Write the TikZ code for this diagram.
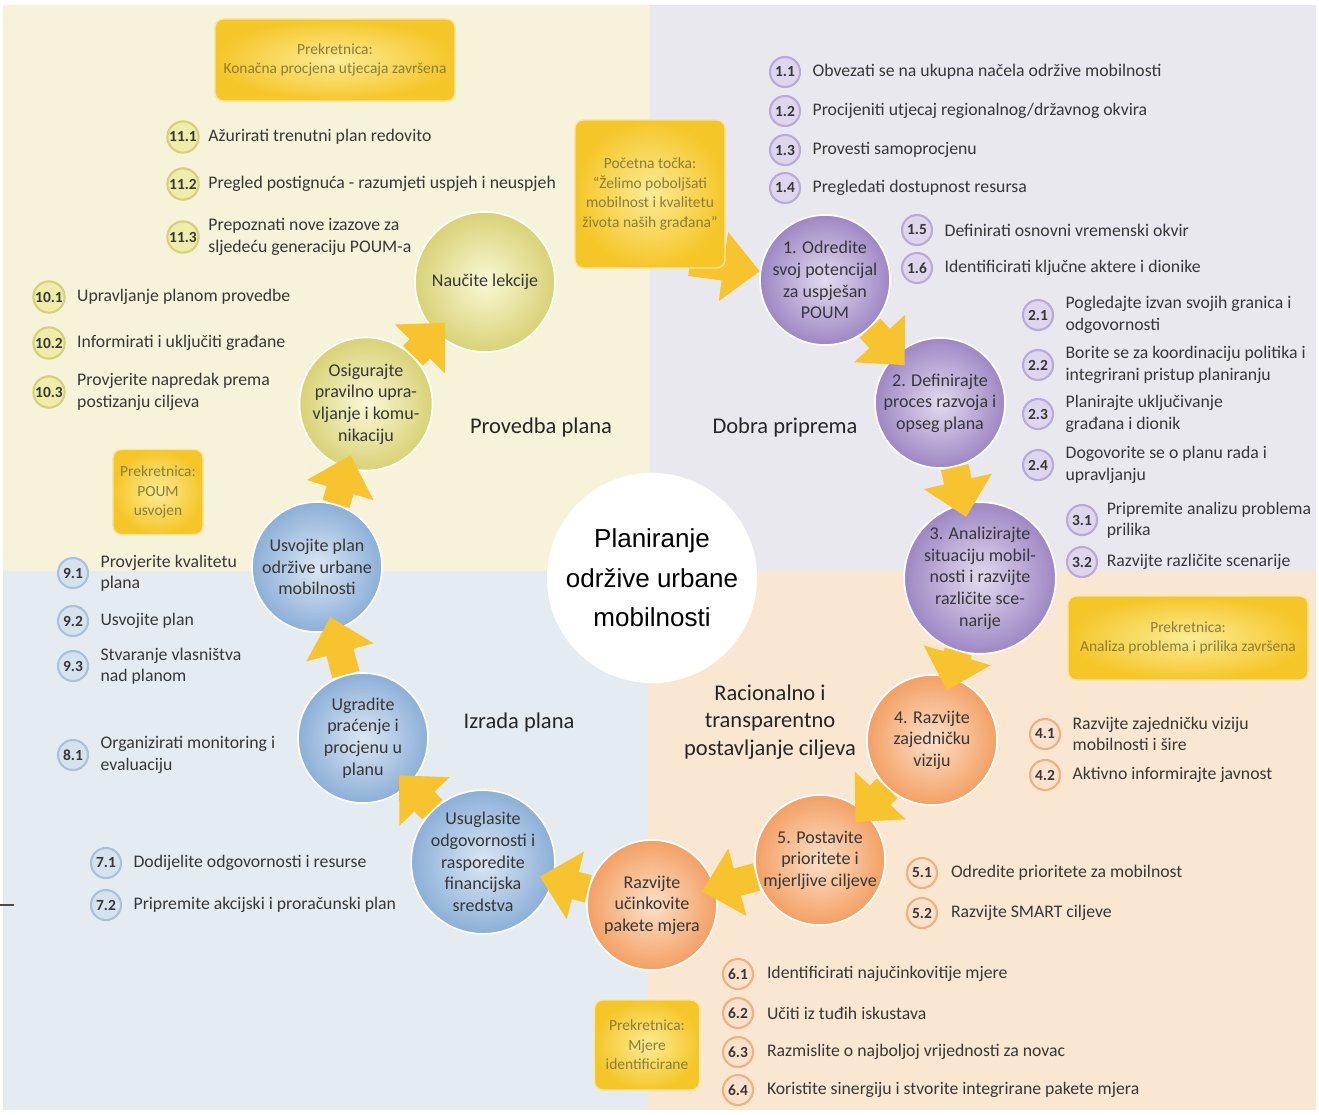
\documentclass[tikz,border=0pt]{standalone}
\usepackage{fontspec}
\setmainfont{Carlito}
\newfontfamily\centerfont{Liberation Sans}
\usepackage{tikz}
\usetikzlibrary{positioning}
\usetikzlibrary{arrows.meta}
\usepackage{xcolor}
\definecolor{bgyellow}{RGB}{247, 242, 218}
\definecolor{bglilac}{RGB}{233, 232, 239}
\definecolor{bgblue}{RGB}{228, 236, 241}
\definecolor{bgpeach}{RGB}{250, 231, 210}
\definecolor{txtgray}{RGB}{55, 55, 55}
\definecolor{msgold}{RGB}{245, 198, 40}
\definecolor{mslight}{RGB}{252, 236, 150}
\definecolor{mstext}{RGB}{140, 124, 60}
\definecolor{arrgold}{RGB}{247, 196, 47}
\definecolor{purin}{RGB}{226, 219, 238}
\definecolor{purout}{RGB}{158, 135, 196}
\definecolor{orain}{RGB}{253, 224, 200}
\definecolor{oraout}{RGB}{243, 160, 100}
\definecolor{bluin}{RGB}{220, 231, 243}
\definecolor{bluout}{RGB}{140, 175, 216}
\definecolor{yelin}{RGB}{250, 248, 214}
\definecolor{yelout}{RGB}{216, 210, 118}
\definecolor{purbf}{RGB}{221, 214, 236}
\definecolor{purbd}{RGB}{185, 170, 214}
\definecolor{orabf}{RGB}{252, 226, 204}
\definecolor{orabd}{RGB}{240, 176, 130}
\definecolor{blubf}{RGB}{214, 226, 238}
\definecolor{blubd}{RGB}{170, 193, 219}
\definecolor{yelbf}{RGB}{240, 236, 170}
\definecolor{yelbd}{RGB}{214, 208, 120}
\pgfdeclarelayer{back}
\pgfdeclarelayer{mid}
\pgfsetlayers{back,mid,main}

\begin{document}
\begin{tikzpicture}[x=0.025cm, y=-0.025cm,
  stage/.style={circle, minimum size=3.25cm, inner sep=0pt, align=center,
    font=\fontsize{12.8}{15.4}\selectfont, text=txtgray,
    draw=white, line width=1.2pt},
  purstage/.style={stage, inner color=purin, outer color=purout},
  orastage/.style={stage, inner color=orain, outer color=oraout},
  blustage/.style={stage, inner color=bluin, outer color=bluout},
  yelstage/.style={stage, inner color=yelin, outer color=yelout},
  badge/.style={circle, minimum size=0.75cm, inner sep=0.5pt, line width=1.5pt,
    font=\fontsize{11}{12}\selectfont\bfseries, text=txtgray},
  purbadge/.style={badge, fill=purbf, draw=purbd},
  orabadge/.style={badge, fill=orabf, draw=orabd},
  blubadge/.style={badge, fill=blubf, draw=blubd},
  yelbadge/.style={badge, fill=yelbf, draw=yelbd},
  item/.style={inner sep=0pt, align=left, text=txtgray,
    font=\fontsize{12.6}{15.2}\selectfont},
  mstone/.style={rectangle, rounded corners=6pt, inner color=mslight,
    outer color=msgold, draw=white!55!msgold, line width=1pt, align=center,
    text=mstext, font=\fontsize{11}{13.8}\selectfont},
  phase/.style={align=center, text=black!85, font=\fontsize{16}{19.5}\selectfont},
  bigarr/.style={line width=20pt, draw=arrgold,
    -{Triangle[length=26pt, width=48pt]}, shorten >=-10pt}
]
  \useasboundingbox (0,0) rectangle (1319,1114);
  \begin{pgfonlayer}{back}
    \fill[white] (0,0) rectangle (1319,1114);
    \fill[bgyellow] (3,5) rectangle (650,571);
    \fill[bglilac]  (650,5) rectangle (1316,571);
    \fill[bgblue]   (3,571) rectangle (648,1110);
    \fill[bgpeach]  (648,571) rectangle (1316,1110);
    \draw[black!70, line width=0.8pt] (0,905) -- (14,905);
  \end{pgfonlayer}

  \node[circle, fill=white, minimum size=5.2cm, align=center, text=black,
    font=\centerfont\fontsize{18.5}{28}\selectfont] (core) at (652,578)
    {Planiranje\\održive urbane\\mobilnosti};

  \node[purstage] (c1) at (825,280) {1. Odredite\\svoj potencijal\\za uspješan\\POUM};
  \node[purstage] (c2) at (940,403) {2. Definirajte\\proces razvoja i\\opseg plana};
  \node[purstage, minimum size=3.4cm] (c3) at (980,578)
    {3. Analizirajte\\situaciju mobil-\\nosti i razvijte\\različite sce-\\narije};
  \node[orastage] (c4) at (932,740) {4. Razvijte\\zajedničku\\viziju};
  \node[orastage] (c5) at (820,860) {5. Postavite\\prioritete i\\mjerljive ciljeve};
  \node[orastage] (c6) at (652,905) {Razvijte\\učinkovite\\pakete mjera};
  \node[blustage] (c7) at (483,862)
    {Usuglasite\\odgovornosti i\\rasporedite\\financijska\\sredstva};
  \node[blustage] (c8) at (363,738) {Ugradite\\praćenje i\\procjenu u\\planu};
  \node[blustage] (c9) at (317,567) {Usvojite plan\\održive urbane\\mobilnosti};
  \node[yelstage] (c10) at (366,404)
    {Osigurajte\\pravilno upra-\\vljanje i komu-\\nikaciju};
  \node[yelstage, minimum size=3.5cm] (c11) at (485,282) {Naučite lekcije};

  \draw[bigarr] (c1) -- (c2);
  \draw[bigarr] (c2) -- (c3);
  \draw[bigarr] (c3) -- (c4);
  \draw[bigarr] (c4) -- (c5);
  \draw[bigarr] (c5) -- (c6);
  \draw[bigarr] (c6) -- (c7);
  \draw[bigarr] (c7) -- (c8);
  \draw[bigarr] (c8) -- (c9);
  \draw[bigarr] (c9) -- (c10);
  \draw[bigarr] (c10) -- (c11);

  \node[mstone, minimum width=3.75cm, minimum height=3.7cm] (start) at (650,194)
    {Početna točka:\\“Želimo poboljšati\\mobilnost i kvalitetu\\života naših građana”};
  \coordinate (startout) at (690,262);
  \begin{pgfonlayer}{mid}
    \draw[bigarr, shorten >=0pt] (startout) -- (c1);
  \end{pgfonlayer}
  \node[mstone, minimum width=6cm, minimum height=2.05cm] (ms11) at (335,60)
    {Prekretnica:\\Konačna procjena utjecaja završena};
  \node[mstone, minimum width=2.25cm, minimum height=2.125cm] (ms9) at (158,492)
    {Prekretnica:\\POUM\\usvojen};
  \node[mstone, minimum width=6cm, minimum height=2.1cm] (ms3) at (1188,638)
    {Prekretnica:\\Analiza problema i prilika završena};
  \node[mstone, minimum width=2.625cm, minimum height=2.25cm] (ms6) at (647,1045)
    {Prekretnica:\\Mjere\\identificirane};

  \node[phase] (ph10) at (541,427) {Provedba plana};
  \node[phase] (ph1) at (785,427) {Dobra priprema};
  \node[phase] (ph7) at (519,722) {Izrada plana};
  \node[phase] (ph4) at (770,722) {Racionalno i\\transparentno\\postavljanje ciljeva};

  \node[purbadge] (n11) at (785,72) {1.1};
  \node[item, right=8pt of n11] (t11) {Obvezati se na ukupna načela održive mobilnosti};
  \node[purbadge] (n12) at (785,111) {1.2};
  \node[item, right=8pt of n12] (t12) {Procijeniti utjecaj regionalnog/državnog okvira};
  \node[purbadge] (n13) at (785,150) {1.3};
  \node[item, right=8pt of n13] (t13) {Provesti samoprocjenu};
  \node[purbadge] (n14) at (785,188) {1.4};
  \node[item, right=8pt of n14] (t14) {Pregledati dostupnost resursa};
  \node[purbadge] (n15) at (917,230) {1.5};
  \node[item, right=8pt of n15] (t15) {Definirati osnovni vremenski okvir};
  \node[purbadge] (n16) at (917,268) {1.6};
  \node[item, right=8pt of n16] (t16) {Identificirati ključne aktere i dionike};

  \node[purbadge] (n21) at (1038,315) {2.1};
  \node[item, right=8pt of n21] (t21) {Pogledajte izvan svojih granica i\\odgovornosti};
  \node[purbadge] (n22) at (1038,365) {2.2};
  \node[item, right=8pt of n22] (t22) {Borite se za koordinaciju politika i\\integrirani pristup planiranju};
  \node[purbadge] (n23) at (1038,414) {2.3};
  \node[item, right=8pt of n23] (t23) {Planirajte uključivanje\\građana i dionik};
  \node[purbadge] (n24) at (1038,465) {2.4};
  \node[item, right=8pt of n24] (t24) {Dogovorite se o planu rada i\\upravljanju};

  \node[purbadge] (n31) at (1082,520) {3.1};
  \node[item, right=6pt of n31] (t31) {Pripremite analizu problema\\prilika};
  \node[purbadge] (n32) at (1082,562) {3.2};
  \node[item, right=6pt of n32] (t32) {Razvijte različite scenarije};

  \node[orabadge] (n41) at (1045,734) {4.1};
  \node[item, right=8pt of n41] (t41) {Razvijte zajedničku viziju\\mobilnosti i šire};
  \node[orabadge] (n42) at (1045,775) {4.2};
  \node[item, right=8pt of n42] (t42) {Aktivno informirajte javnost};

  \node[orabadge] (n51) at (922,873) {5.1};
  \node[item, right=9pt of n51] (t51) {Odredite prioritete za mobilnost};
  \node[orabadge] (n52) at (922,913) {5.2};
  \node[item, right=9pt of n52] (t52) {Razvijte SMART ciljeve};

  \node[orabadge] (n61) at (738,974) {6.1};
  \node[item, right=9pt of n61] (t61) {Identificirati najučinkovitije mjere};
  \node[orabadge] (n62) at (738,1013) {6.2};
  \node[item, right=9pt of n62] (t62) {Učiti iz tuđih iskustava};
  \node[orabadge] (n63) at (738,1052) {6.3};
  \node[item, right=9pt of n63] (t63) {Razmislite o najboljoj vrijednosti za novac};
  \node[orabadge] (n64) at (738,1090) {6.4};
  \node[item, right=9pt of n64] (t64) {Koristite sinergiju i stvorite integrirane pakete mjera};

  \node[blubadge] (n71) at (106,863) {7.1};
  \node[item, right=8pt of n71] (t71) {Dodijelite odgovornosti i resurse};
  \node[blubadge] (n72) at (106,905) {7.2};
  \node[item, right=8pt of n72] (t72) {Pripremite akcijski i proračunski plan};

  \node[blubadge] (n81) at (73,755) {8.1};
  \node[item, right=8pt of n81] (t81) {Organizirati monitoring i\\evaluaciju};

  \node[blubadge] (n91) at (73,573) {9.1};
  \node[item, right=8pt of n91] (t91) {Provjerite kvalitetu\\plana};
  \node[blubadge] (n92) at (73,621) {9.2};
  \node[item, right=8pt of n92] (t92) {Usvojite plan};
  \node[blubadge] (n93) at (73,666) {9.3};
  \node[item, right=8pt of n93] (t93) {Stvaranje vlasništva\\nad planom};

  \node[yelbadge] (n101) at (49,297) {10.1};
  \node[item, right=8pt of n101] (t101) {Upravljanje planom provedbe};
  \node[yelbadge] (n102) at (49,343) {10.2};
  \node[item, right=8pt of n102] (t102) {Informirati i uključiti građane};
  \node[yelbadge] (n103) at (49,392) {10.3};
  \node[item, right=8pt of n103] (t103) {Provjerite napredak prema\\postizanju ciljeva};

  \node[yelbadge] (n111) at (183,137) {11.1};
  \node[item, right=6pt of n111] (t111) {Ažurirati trenutni plan redovito};
  \node[yelbadge] (n112) at (183,184) {11.2};
  \node[item, right=6pt of n112] (t112) {Pregled postignuća - razumjeti uspjeh i neuspjeh};
  \node[yelbadge] (n113) at (183,237) {11.3};
  \node[item, right=6pt of n113] (t113) {Prepoznati nove izazove za\\sljedeću generaciju POUM-a};
\end{tikzpicture}
\end{document}
